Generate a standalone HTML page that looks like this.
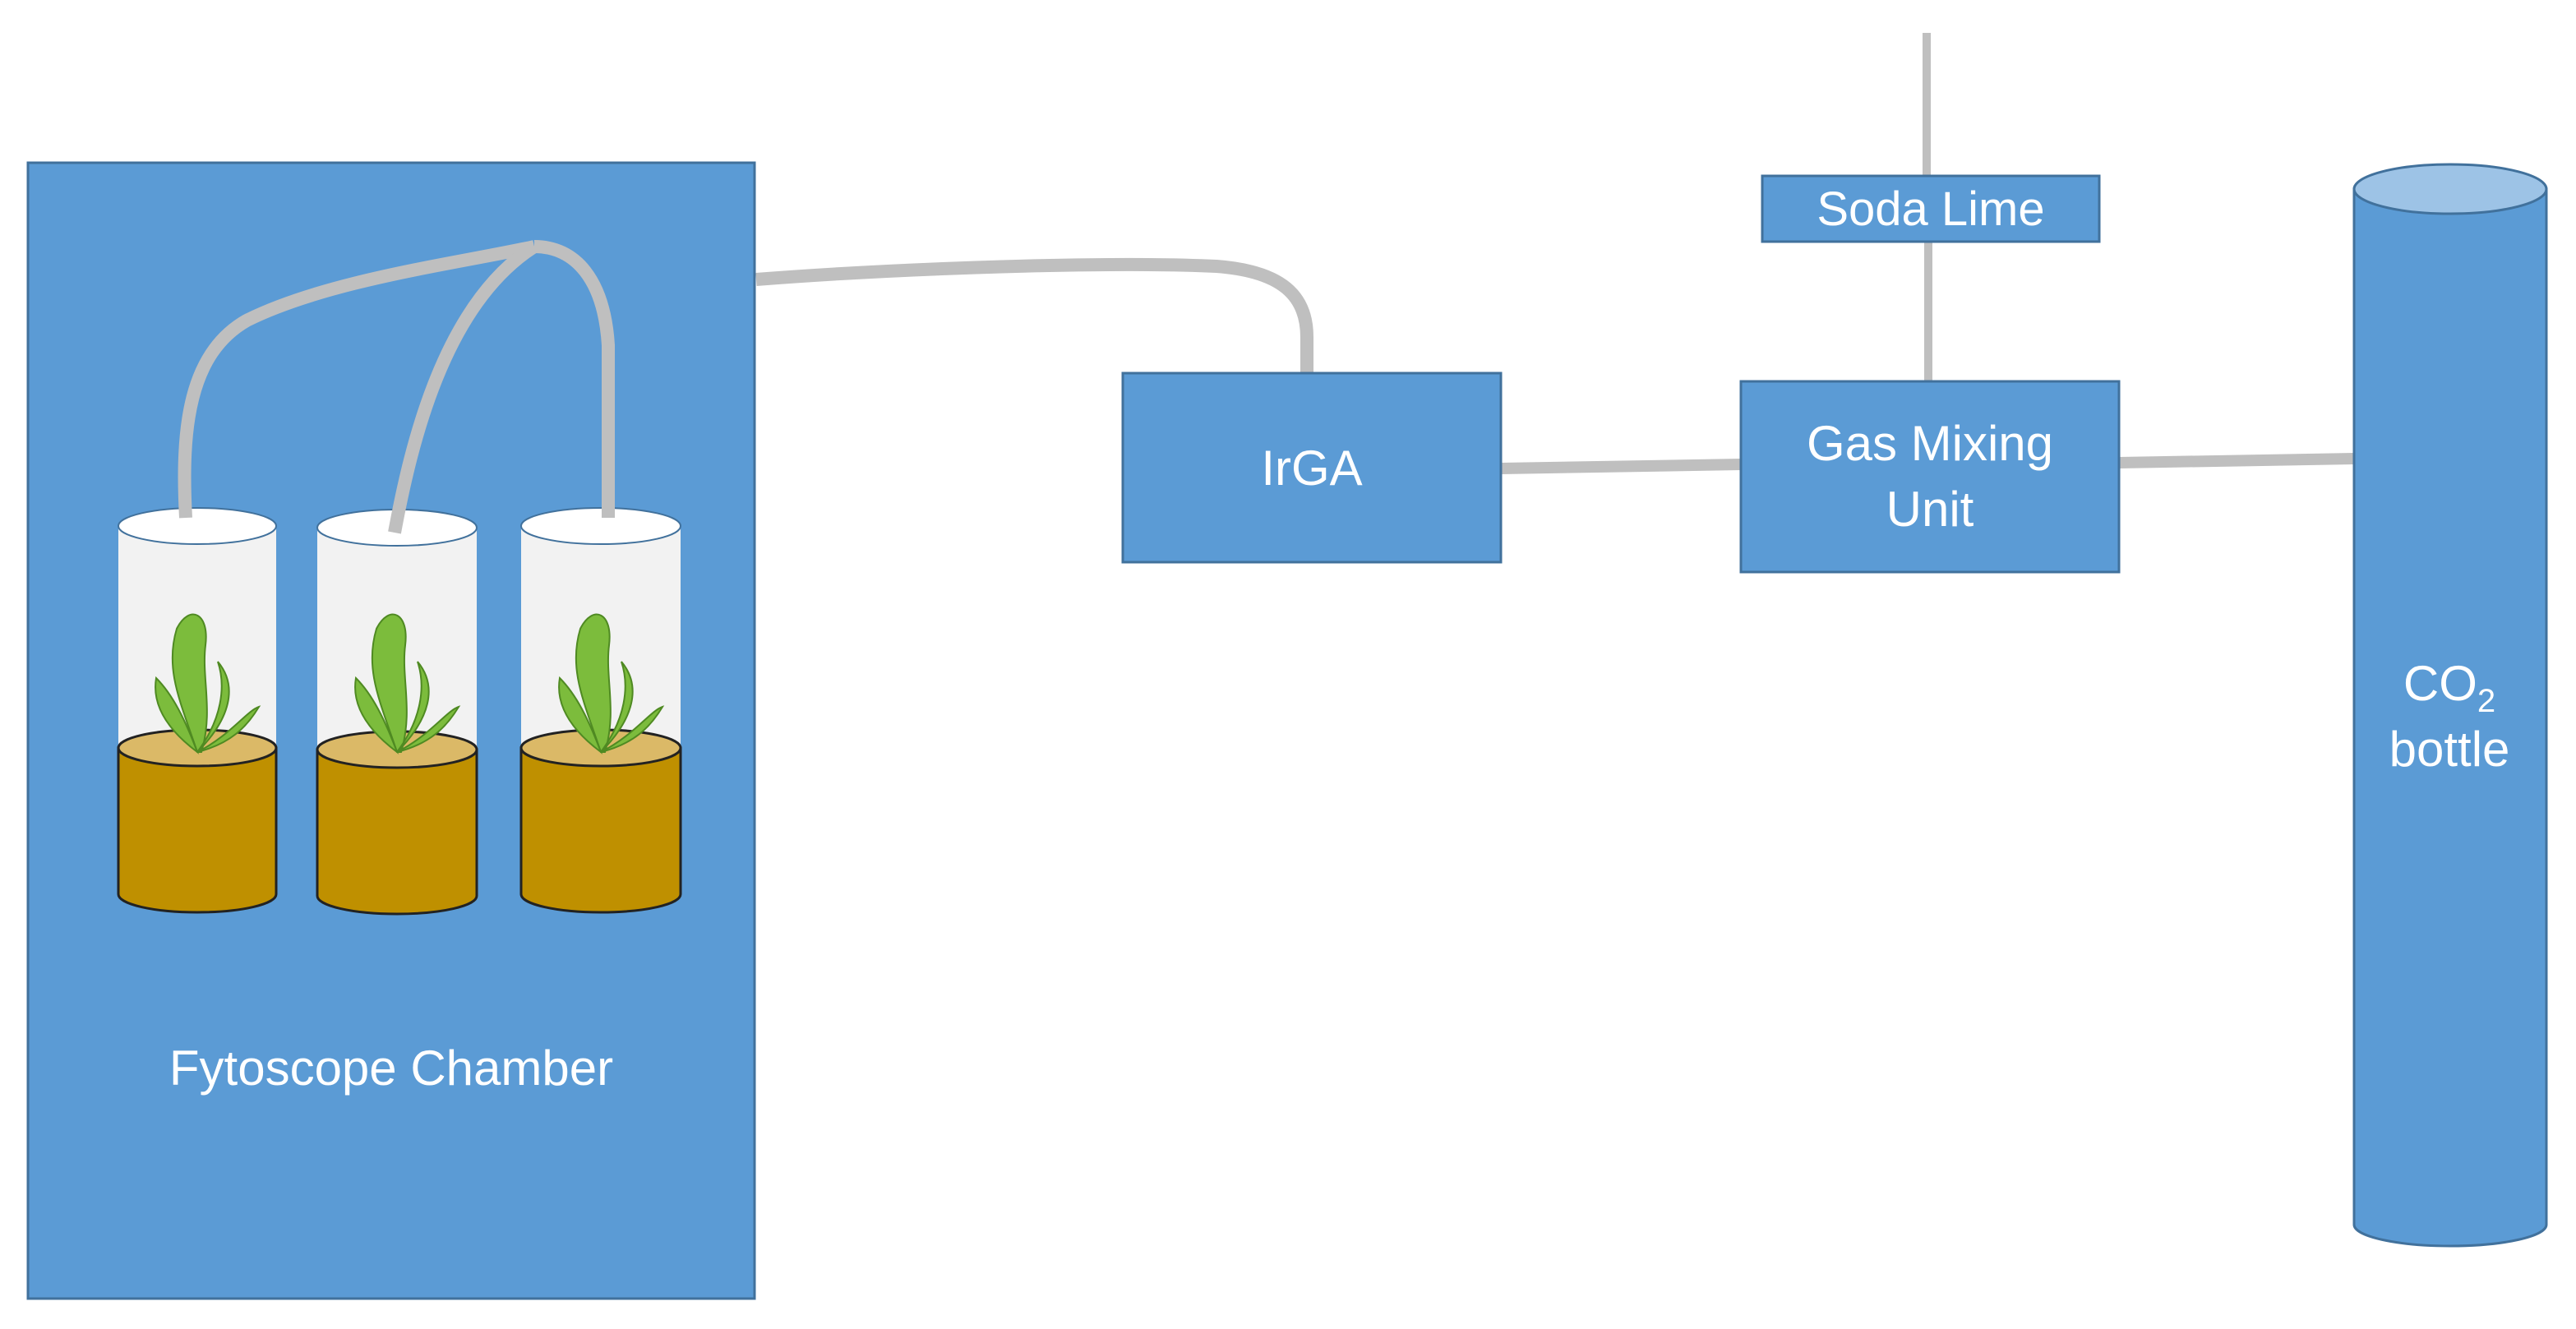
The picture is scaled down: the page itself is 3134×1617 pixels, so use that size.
<!DOCTYPE html>
<html><head><meta charset="utf-8"><style>
html,body{margin:0;padding:0;background:#fff;}
svg{display:block;}
text{font-family:"Liberation Sans",sans-serif;fill:#fff;}
</style></head><body>
<svg width="3134" height="1617" viewBox="0 0 3134 1617" xmlns="http://www.w3.org/2000/svg">
<rect x="0" y="0" width="3134" height="1617" fill="#fff"/>
<rect x="34" y="198" width="884" height="1382" fill="#5b9bd5" stroke="#41719c" stroke-width="3"/>
<path d="M920 340 C1100 326 1350 318 1480 324 C1560 330 1590 360 1590 410 L1590 454" fill="none" stroke="#bfbfbf" stroke-width="16"/>
<line x1="1826" y1="570" x2="2118" y2="565" stroke="#bfbfbf" stroke-width="14"/>
<line x1="2578" y1="563" x2="2864" y2="558" stroke="#bfbfbf" stroke-width="14"/>
<line x1="2344" y1="40" x2="2344" y2="214" stroke="#bfbfbf" stroke-width="10"/>
<line x1="2346" y1="294" x2="2346" y2="464" stroke="#bfbfbf" stroke-width="10"/>
<rect x="1366" y="454" width="460" height="230" fill="#5b9bd5" stroke="#41719c" stroke-width="3"/>
<text x="1596" y="590" font-size="60" text-anchor="middle">IrGA</text>
<rect x="2118" y="464" width="460" height="232" fill="#5b9bd5" stroke="#41719c" stroke-width="3"/>
<text x="2348" y="560" font-size="60" text-anchor="middle">Gas Mixing</text>
<text x="2348" y="640" font-size="60" text-anchor="middle">Unit</text>
<rect x="2144" y="214" width="410" height="80" fill="#5b9bd5" stroke="#41719c" stroke-width="3"/>
<text x="2349" y="274" font-size="58" text-anchor="middle">Soda Lime</text>
<path d="M2864 230 L2864 1490 A117 26 0 0 0 3098 1490 L3098 230 Z" fill="#5b9bd5" stroke="#41719c" stroke-width="3"/>
<ellipse cx="2981" cy="230" rx="117" ry="30" fill="#9dc3e6" stroke="#41719c" stroke-width="3"/>
<text x="2980" y="852" font-size="60" text-anchor="middle">CO<tspan font-size="40" dy="14">2</tspan></text>
<text x="2980" y="932" font-size="60" text-anchor="middle">bottle</text>
<text x="476" y="1320" font-size="60" text-anchor="middle">Fytoscope Chamber</text>
<g stroke="#222" stroke-width="3">
 <g>
  <rect x="144" y="640" width="192" height="270" fill="#f2f2f2" stroke="none"/>
  <ellipse cx="240" cy="640" rx="96" ry="22" fill="#fff" stroke="#41719c" stroke-width="2"/>
  <path d="M144 910 L144 1088 A96 22 0 0 0 336 1088 L336 910 Z" fill="#bf9000"/>
  <ellipse cx="240" cy="910" rx="96" ry="22" fill="#dbb967"/>
 </g>
 <g>
  <rect x="386" y="642" width="194" height="270" fill="#f2f2f2" stroke="none"/>
  <ellipse cx="483" cy="642" rx="97" ry="22" fill="#fff" stroke="#41719c" stroke-width="2"/>
  <path d="M386 912 L386 1090 A97 22 0 0 0 580 1090 L580 912 Z" fill="#bf9000"/>
  <ellipse cx="483" cy="912" rx="97" ry="22" fill="#dbb967"/>
 </g>
 <g>
  <rect x="634" y="640" width="194" height="270" fill="#f2f2f2" stroke="none"/>
  <ellipse cx="731" cy="640" rx="97" ry="22" fill="#fff" stroke="#41719c" stroke-width="2"/>
  <path d="M634 910 L634 1088 A97 22 0 0 0 828 1088 L828 910 Z" fill="#bf9000"/>
  <ellipse cx="731" cy="910" rx="97" ry="22" fill="#dbb967"/>
 </g>
</g>
<g fill="#7cbc3c" stroke="#4f8a22" stroke-width="2">
 <g transform="translate(240,915)">
  <path d="M0 0 C-20 -60 -40 -100 -25 -150 C-10 -180 15 -170 10 -130 C5 -90 20 -50 5 0 Z"/>
  <path d="M0 0 C-40 -30 -55 -60 -50 -90 C-30 -70 -15 -40 0 0 Z"/>
  <path d="M0 0 C30 -40 35 -80 25 -110 C50 -80 40 -40 0 0 Z"/>
  <path d="M0 0 C40 -20 60 -50 75 -55 C60 -30 40 -10 0 0 Z"/>
 </g>
 <g transform="translate(483,915)">
  <path d="M0 0 C-20 -60 -40 -100 -25 -150 C-10 -180 15 -170 10 -130 C5 -90 20 -50 5 0 Z"/>
  <path d="M0 0 C-40 -30 -55 -60 -50 -90 C-30 -70 -15 -40 0 0 Z"/>
  <path d="M0 0 C30 -40 35 -80 25 -110 C50 -80 40 -40 0 0 Z"/>
  <path d="M0 0 C40 -20 60 -50 75 -55 C60 -30 40 -10 0 0 Z"/>
 </g>
 <g transform="translate(731,915)">
  <path d="M0 0 C-20 -60 -40 -100 -25 -150 C-10 -180 15 -170 10 -130 C5 -90 20 -50 5 0 Z"/>
  <path d="M0 0 C-40 -30 -55 -60 -50 -90 C-30 -70 -15 -40 0 0 Z"/>
  <path d="M0 0 C30 -40 35 -80 25 -110 C50 -80 40 -40 0 0 Z"/>
  <path d="M0 0 C40 -20 60 -50 75 -55 C60 -30 40 -10 0 0 Z"/>
 </g>
</g>
<g fill="none" stroke="#bfbfbf" stroke-width="16">
 <path d="M226 630 C220 520 230 430 300 390 C400 340 560 320 650 300"/>
 <path d="M480 648 C500 540 540 370 650 300"/>
 <path d="M740 630 L740 420 C735 340 700 300 650 300"/>
</g>
</svg>
</body></html>
